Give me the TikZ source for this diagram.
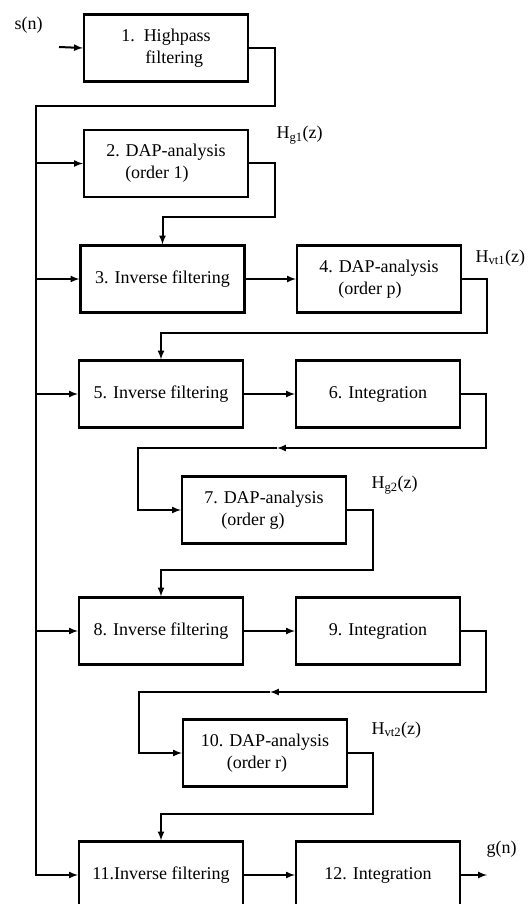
\documentclass[tikz,border=0pt]{standalone}
\usepackage{fontspec}
\setmainfont{Liberation Serif}
\usepackage{tikz}
\usetikzlibrary{calc}

\tikzset{
    block/.style={draw,line width=2.2pt,minimum width=164pt,minimum height=67pt,inner sep=2pt,align=left},
    wire/.style={line width=2pt}
}

\begin{document}
\begin{tikzpicture}[x=1pt,y=-1pt,font=\fontsize{18}{22}\selectfont]
        \useasboundingbox (0,0) rectangle (529,904);
        \clip (0,0) rectangle (529,904);

        \node[block] (b1) at (166,48) {1.\ \ Highpass\\\hspace*{24pt}filtering};
        \node[block] (b2) at (166,163.5) {2. DAP-analysis\\\hspace*{19pt}(order 1)};
        \node[block] (b3) at (162.5,279) {3. Inverse filtering};
        \node[block] (b4) at (379,279) {4. DAP-analysis\\\hspace*{19pt}(order p)};
        \node[block] (b5) at (161,394) {5. Inverse filtering};
        \node[block] (b6) at (378,394) {6. Integration};
        \node[block] (b7) at (264,510) {7. DAP-analysis\\\hspace*{17pt}(order g)};
        \node[block] (b8) at (161,631) {8. Inverse filtering};
        \node[block] (b9) at (378,631) {9. Integration};
        \node[block] (b10) at (265,753) {10. DAP-analysis\\\hspace*{26pt}(order r)};
        \node[block] (b11) at (161,875) {11.Inverse filtering};
        \node[block] (b12) at (378,875) {12. Integration};

        \node[anchor=west] (sn) at (11,25) {s(n)};
        \node[anchor=west] (hg1) at (273,135) {H\textsubscript{g1}(z)};
        \node[anchor=west] (hvt1) at (472,258) {H\textsubscript{vt1}(z)};
        \node[anchor=west] (hg2) at (368,485) {H\textsubscript{g2}(z)};
        \node[anchor=west] (hvt2) at (368,730) {H\textsubscript{vt2}(z)};
        \node[anchor=west] (gn) at (483,849) {g(n)};

        \coordinate (in) at (59,47);
        \coordinate (out) at (487,875);
        \coordinate (k1) at (275,106);
        \coordinate (bus) at (36,106);
        \coordinate (k2) at (275,217);
        \coordinate (k4) at (487,333);
        \coordinate (r6) at (486,448);
        \coordinate (m6) at (277,448);
        \coordinate (l6) at (138,448);
        \coordinate (k7) at (373,570);
        \coordinate (r9) at (486,692);
        \coordinate (m9) at (270,692);
        \coordinate (l9) at (139,692);
        \coordinate (k10) at (373,814);

        \begin{scope}[wire]
        \draw[-latex] (in) -- (b1.west);
        \draw[-latex] (b1.east) -| (k1) -- (bus) |- (b11.west);
        \foreach \n in {2,3,5,8}
            \draw[-latex] (bus |- b\n.west) -- (b\n.west);

        \draw[-latex] (b2.east) -| (k2) -| (b3.north);
        \draw[-latex] (b3) -- (b4);
        \draw[-latex] (b4.east) -| (k4) -| (b5.north);
        \draw[-latex] (b5) -- (b6);
        \draw[-latex] (b6.east) -| (r6) -- (m6);
        \draw[-latex] (m6) -- (l6) |- (b7.west);
        \draw[-latex] (b7.east) -| (k7) -| (b8.north);
        \draw[-latex] (b8) -- (b9);
        \draw[-latex] (b9.east) -| (r9) -- (m9);
        \draw[-latex] (m9) -- (l9) |- (b10.west);
        \draw[-latex] (b10.east) -| (k10) -| (b11.north);
        \draw[-latex] (b11) -- (b12);
        \draw[-latex] (b12.east) -- (out);
        \end{scope}
    \end{tikzpicture}
\end{document}
